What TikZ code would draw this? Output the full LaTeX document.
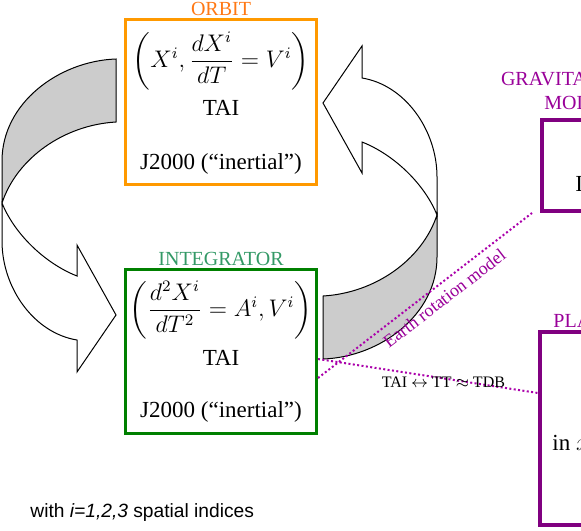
\documentclass[tikz,border=0pt]{standalone}
\usepackage{amsmath}
\usepackage{fontspec}
\setmainfont{Liberation Serif}
\newfontfamily\helv{Liberation Sans}
\usetikzlibrary{positioning}

\definecolor{orbitorange}{RGB}{255,153,0}
\definecolor{orbitlabel}{RGB}{255,120,20}
\definecolor{integgreen}{RGB}{0,128,0}
\definecolor{integlabel}{RGB}{51,153,102}
\definecolor{modpurple}{RGB}{128,0,128}
\definecolor{modlabel}{RGB}{153,0,153}
\definecolor{linkpurple}{RGB}{170,0,170}
\definecolor{ribbongray}{RGB}{204,204,204}

\newcommand{\bentarrow}{%
  \filldraw[arrowline, fill=white] (362,142) -- (362,173) -- (323,103) -- (362,46) -- (362,78)
    .. controls (405,85) and (437,130) .. (437,177) -- (437,215)
    .. controls (425,185) and (395,155) .. (362,142) -- cycle;
  \filldraw[arrowline, fill=ribbongray] (437,215)
    .. controls (422,260) and (375,293) .. (323,296) -- (323,359)
    .. controls (380,357) and (437,315) .. (437,257) -- cycle;
}

\tikzset{
  arrowline/.style={draw=black, line width=0.5pt},
  box/.style={draw, line width=1.5pt, minimum width=95.5pt},
  boxtext/.style={font=\fontsize{11.5}{13}\selectfont},
  boxlabel/.style={font=\fontsize{10}{12}\selectfont, inner sep=1pt},
  linkline/.style={draw=linkpurple, line width=1pt, dash pattern=on 1pt off 1.2pt},
}

\begin{document}
\begin{tikzpicture}[x=0.5pt, y=-0.5pt]
  \useasboundingbox (0,0) rectangle (581,530);
  \clip (0,0) rectangle (581,530);

  % turning arrows
  \bentarrow
  \begin{scope}[rotate around={180:(219.5,209)}]
    \bentarrow
  \end{scope}

  % orbit
  \node[box, draw=orbitorange, minimum height=82.5pt] (orbit) at (221,102) {};
  \node[boxlabel, text=orbitlabel, above=0pt of orbit] (orbitlabel) {ORBIT};
  \node[boxtext] (orbiteq) at (221,61)
    {$\left( X^{i}, \dfrac{dX^{i}}{dT} = V^{i} \right)$};
  \node[boxtext] (orbittai) at (221,108) {TAI};
  \node[boxtext] (orbitframe) at (221,164) {J2000 (``inertial'')};

  % integrator
  \node[box, draw=integgreen, minimum height=82pt] (integ) at (221,351.5) {};
  \node[boxlabel, text=integlabel, above=0pt of integ] (integlabel) {INTEGRATOR};
  \node[boxtext] (integeq) at (221,310)
    {$\left( \dfrac{d^{2}X^{i}}{dT^{2}} = A^{i}, V^{i} \right)$};
  \node[boxtext] (integtai) at (221,358) {TAI};
  \node[boxtext] (integframe) at (221,412) {J2000 (``inertial'')};

  % models on the right
  \node[draw=modpurple, line width=2pt, minimum width=38pt, minimum height=45.5pt] (grav) at (580,165.5) {};
  \node[boxlabel, text=modlabel, align=center, above=3pt of grav] (gravlabel)
    {GRAVITATIONAL\\MODEL};
  \node[boxtext, anchor=base west, inner sep=0pt] (gravtext) at (575,191) {ITRS};

  \node[draw=modpurple, line width=2pt, minimum width=75pt, minimum height=96.5pt] (plan) at (615,428.5) {};
  \node[boxlabel, text=modlabel, anchor=base west, inner sep=0pt] (planlabel) at (553,327) {PLANETARY EPHEMERIDES};
  \node[boxtext, anchor=base west, inner sep=0pt] (plantext) at (552,450) {in $x$};

  % links
  \draw[linkline] ([yshift=-13.25pt]integ.east) -- ([xshift=-4pt]grav.south west)
    node[pos=0.55, sloped, below, text=modlabel, font=\fontsize{9}{10}\selectfont] (ertlabel) {Earth rotation model};
  \draw[linkline] ([yshift=-3.75pt]integ.east) -- ([yshift=17.75pt]plan.west)
    node[pos=0.57, yshift=-1.8pt, font=\fontsize{8}{10}\selectfont] (timelabel)
    {TAI $\leftrightarrow$ TT $\approx$ TDB};

  \node[anchor=base west, inner sep=0pt, font=\helv\fontsize{9.6}{11}\selectfont] (note) at (30,517)
    {with \textit{i=1,2,3} spatial indices};
\end{tikzpicture}
\end{document}
